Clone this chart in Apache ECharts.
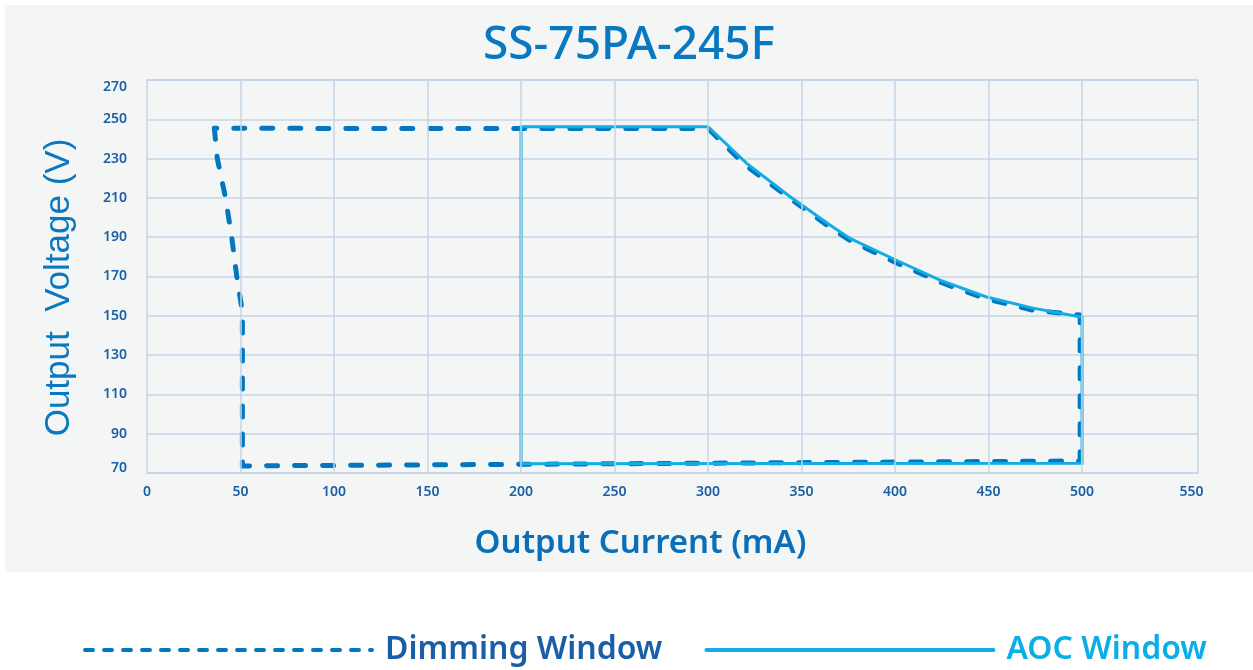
<!DOCTYPE html>
<html>
<head>
<meta charset="utf-8">
<script src="https://cdn.jsdelivr.net/npm/echarts@6/dist/echarts.min.js"></script>
<style>
html,body{margin:0;padding:0;background:#ffffff;}
#chart{width:1253px;height:670px;}
</style>
</head>
<body>
<div id="chart"></div>
<script>
// ---- data ----
const titleText = 'SS-75PA-245F';
const xTicks = [0, 50, 100, 150, 200, 250, 300, 350, 400, 450, 500, 550];
const yTicks = [70, 90, 110, 130, 150, 170, 190, 210, 230, 250, 270];

// Dimming Window (dashed) outline: current (mA) / voltage (V)
const dimCurrent = [36, 37.6, 42, 45.3, 48, 50.5, 51, 51, 499, 499, 474, 448, 424, 400, 376, 365, 344, 320, 300, 36];
const dimVoltage = [245.4, 230, 210, 190, 170, 155, 150, 73.6, 76.1, 150.4, 152.8, 158.8, 167.2, 177.3, 188.3, 195.2, 209.6, 226.6, 245.3, 245.4];

// AOC Window (solid) outline
const aocCurrent = [200, 200, 300, 320.7, 343.9, 365.2, 375.9, 400.4, 424, 448.5, 473.8, 500, 500, 200];
const aocVoltage = [74.7, 246.2, 246.2, 227.6, 210.6, 196.2, 189.4, 178.4, 168.2, 159.7, 153.9, 149.3, 75, 74.7];

const seriesNames = ['Dimming Window', 'AOC Window'];

const pairs = (xs, ys) => xs.map((x, i) => [x, ys[i]]);

const gridColor = '#c3d6e6';
const dimColor = '#0277c0';
const aocColor = '#12ade6';
const labelColor = '#1d5fa6';
const tickFont = {color: labelColor, fontFamily: 'Noto Sans', fontSize: 14, fontWeight: 600};

const chart = echarts.init(document.getElementById('chart'));
chart.setOption({
  backgroundColor: '#ffffff',
  animation: false,
  graphic: [{
    type: 'rect',
    z: -100,
    silent: true,
    shape: {x: 5, y: 5, width: 1248, height: 567},
    style: {fill: '#f4f6f6'}
  }],
  title: {
    text: titleText,
    left: 478,
    top: 18,
    textStyle: {fontFamily: 'Noto Sans', fontSize: 46, fontWeight: 500, color: '#0a78c0'}
  },
  grid: {
    left: 147, right: 55, top: 80, bottom: 197,
    show: true, borderColor: gridColor, borderWidth: 1.5, backgroundColor: 'transparent'
  },
  legend: {
    left: 78, top: 629,
    itemWidth: 287, itemHeight: 14, itemGap: 42,
    selectedMode: false,
    textStyle: {fontFamily: 'Noto Sans', fontSize: 32, fontWeight: 600, padding: [0, 0, 0, 8]},
    data: [
      {name: seriesNames[0], textStyle: {color: '#1a5ea8'},
       itemStyle: {color: 'rgba(0,0,0,0)', borderWidth: 0, opacity: 0},
       lineStyle: {type: [8, 11], width: 4, cap: 'round'}},
      {name: seriesNames[1], textStyle: {color: '#0aaee6'},
       itemStyle: {color: 'rgba(0,0,0,0)', borderWidth: 0, opacity: 0},
       lineStyle: {type: 'solid', width: 4, cap: 'round'}}
    ]
  },
  xAxis: {
    type: 'value', min: 0, max: 562, interval: 50,
    name: 'Output Current (mA)',
    nameLocation: 'middle', nameGap: 54,
    nameTextStyle: {fontFamily: 'Noto Sans', fontSize: 33, fontWeight: 600, color: '#0a6fb8', padding: [0, 64, 0, 0]},
    axisLine: {show: false}, axisTick: {show: false},
    splitLine: {show: false},
    axisLabel: {
      margin: 12,
      showMaxLabel: false,
      formatter: v => (v === xTicks[xTicks.length - 1] ? '{e|' + v + '}' : (xTicks.indexOf(v) >= 0 ? '{n|' + v + '}' : '')),
      rich: {
        n: tickFont,
        e: Object.assign({}, tickFont, {padding: [0, 0, 0, 32]})
      }
    }
  },
  yAxis: {
    type: 'value', min: 70, max: 270, interval: 20,
    name: 'Output  Voltage (V)',
    nameLocation: 'middle', nameGap: 70, nameRotate: 90,
    nameTextStyle: {fontFamily: 'Liberation Sans', fontSize: 35, color: '#0a78c0', padding: [0, 22, 0, 0]},
    axisLine: {show: false}, axisTick: {show: false},
    splitLine: {show: true, lineStyle: {color: gridColor, width: 1.5}},
    axisLabel: {
      margin: 20,
      formatter: v => v === yTicks[yTicks.length - 1] ? '{t|' + v + '}' : (v === yTicks[0] ? '{b|' + v + '}' : '{n|' + v + '}'),
      rich: {
        n: tickFont,
        t: Object.assign({}, tickFont, {padding: [14, 0, 0, 0]}),
        b: Object.assign({}, tickFont, {padding: [0, 0, 10, 0]})
      }
    }
  },
  series: [
    {
      name: 'grid-x', type: 'line', data: [], z: 1, silent: true,
      markLine: {
        silent: true, symbol: 'none', label: {show: false},
        lineStyle: {color: gridColor, width: 1.5, type: 'solid'},
        data: xTicks.filter(v => v > 0 && v < 550).map(v => ({xAxis: v}))
      }
    },
    {
      name: seriesNames[0], type: 'line', data: pairs(dimCurrent, dimVoltage),
      showSymbol: false, symbol: 'none', z: 3,
      lineStyle: {color: dimColor, width: 5, type: [11, 17], cap: 'round', join: 'round'},
      itemStyle: {color: dimColor}
    },
    {
      name: seriesNames[1], type: 'line', data: pairs(aocCurrent, aocVoltage),
      showSymbol: false, symbol: 'none', z: 4,
      lineStyle: {color: aocColor, width: 3, type: 'solid', join: 'miter'},
      itemStyle: {color: aocColor}
    }
  ]
});
</script>
</body>
</html>
